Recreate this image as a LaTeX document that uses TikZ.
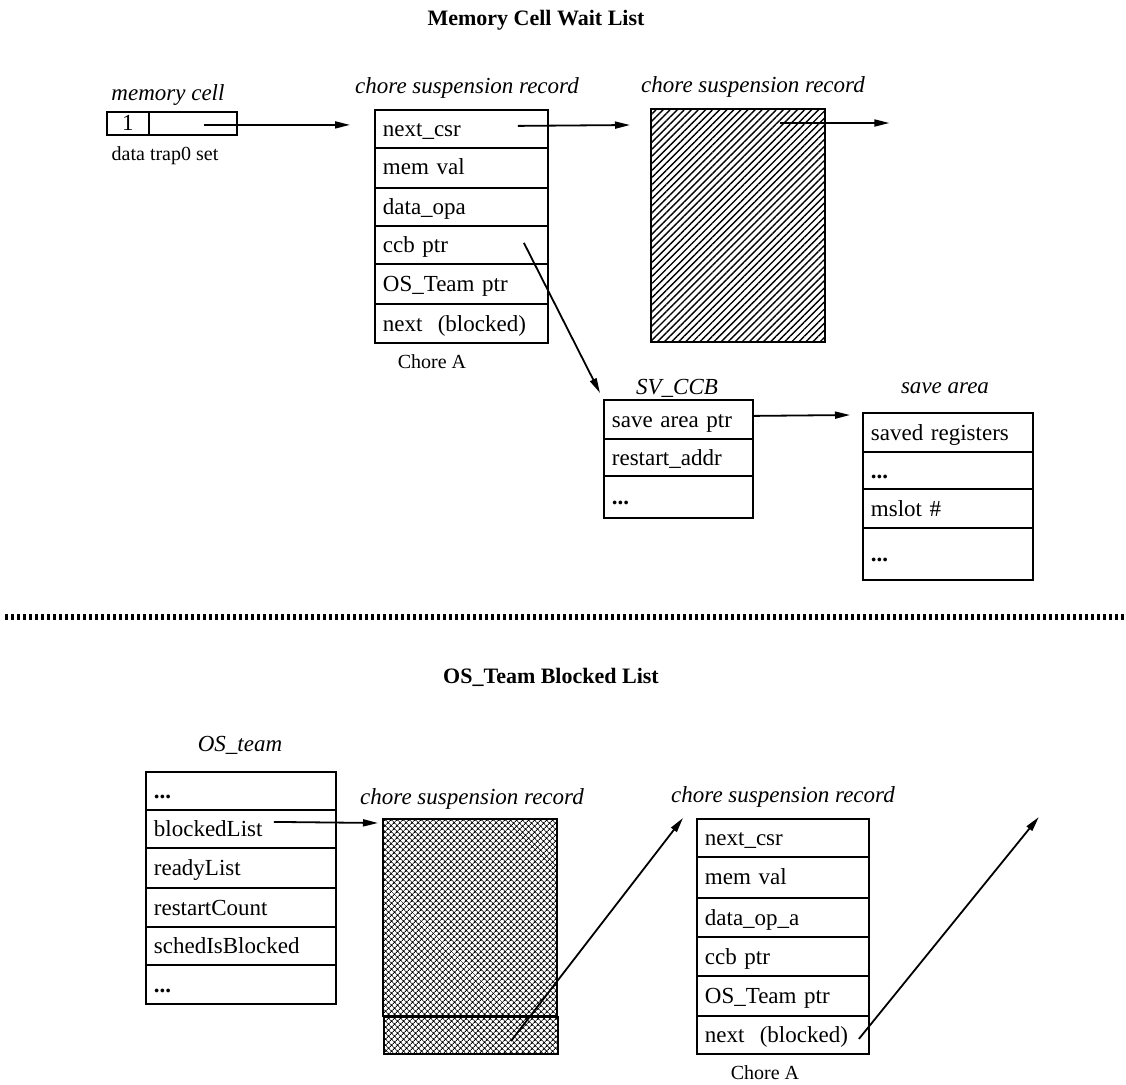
\documentclass[tikz,border=0pt]{standalone}
\usepackage{fontspec}
\setmainfont{Liberation Serif}
\usetikzlibrary{arrows.meta,patterns.meta}
\newcommand\myfs{\fontsize{23}{26}\selectfont}
\newcommand\smfs{\fontsize{20}{23}\selectfont}
\newcommand\ttfs{\fontsize{22}{25}\selectfont}
\begin{document}
\begin{tikzpicture}[x=1pt,y=-1pt,
 fld/.style={draw, line width=1.8pt, anchor=north west, inner xsep=8pt, inner ysep=0pt, align=left, font=\myfs, text height=20pt, text depth=4pt},
 lbl/.style={font=\myfs\itshape, inner sep=0pt},
 ttl/.style={font=\ttfs\bfseries, inner sep=0pt},
 note/.style={font=\smfs, inner sep=0pt},
 arr/.style={line width=1.8pt, -{Triangle[length=15pt,width=7pt]}},
 blk/.style={draw, line width=2pt, anchor=north west, inner sep=0pt},
]
\useasboundingbox (0,0) rectangle (1126,1084);

% ---------- top part ----------
\node[ttl] (t1) at (536,20) {Memory Cell Wait List};

\node[lbl] (lmc) at (168,95) {memory cell};
\node[fld, minimum height=23, text width=26, align=center, font=\myfs, text height=15pt, text depth=0pt] (mc1) at (106,111) {1};
\node[fld, minimum height=23, text width=72, text height=0pt, text depth=0pt] (mc2) at (148,111) {};
\node[note] (n1) at (165,156) {data trap0 set};

\node[lbl] (lcsr1) at (467,88) {chore suspension record};
\node[fld, minimum height=38, text width=157] (c1) at (374,109) {next\_csr};
\node[fld, minimum height=40, text width=157, text height=22pt, text depth=8pt] (c2) at (374,147) {mem val};
\node[fld, minimum height=38, text width=157] (c3) at (374,187) {data\_opa};
\node[fld, minimum height=38, text width=157] (c4) at (374,225) {ccb ptr};
\node[fld, minimum height=40, text width=157] (c5) at (374,263) {OS\_Team ptr};
\node[fld, minimum height=39, text width=157] (c6) at (374,303) {next\ \ (blocked)};
\node[note] (chA1) at (432,362) {Chore A};

\node[lbl] (lcsr2) at (753,87) {chore suspension record};
\node[blk, minimum width=174, minimum height=233,
      pattern={Lines[angle=45,distance=5pt,line width=1.4pt]}] (hatch) at (650,108) {};

\node[lbl] (lsv) at (677,388) {SV\_CCB};
\node[fld, minimum height=39, text width=133] (s1) at (603,399) {save area ptr};
\node[fld, minimum height=37, text width=133] (s2) at (603,438) {restart\_addr};
\node[fld, minimum height=42, text width=133] (s3) at (603,475) {\textbf{...}};

\node[lbl] (lsa) at (945,388) {save area};
\node[fld, minimum height=39, text width=154] (a1) at (862,412) {saved registers};
\node[fld, minimum height=37, text width=154] (a2) at (862,451) {\textbf{...}};
\node[fld, minimum height=39, text width=154] (a3) at (862,488) {mslot \#};
\node[fld, minimum height=52, text width=154] (a4) at (862,527) {\textbf{...}};

% arrows top
\draw[arr] ([xshift=11pt,yshift=-1.5pt]mc2.center) -- ([xshift=-24pt,yshift=4pt]c1.west);
\draw[arr] ([xshift=56.5pt,yshift=3pt]c1.center) -- ([xshift=-20pt,yshift=-17pt]hatch.north west);
\draw[arr] ([xshift=-45pt,yshift=-15pt]hatch.north east) -- ([xshift=64pt,yshift=-15pt]hatch.north east);
\draw[arr] ([xshift=62.5pt,yshift=2pt]c4.center) -- ([xshift=-3pt,yshift=6pt]s1.north west);
\draw[arr] ([yshift=3.5pt]s1.east) -- ([xshift=-12pt,yshift=-3pt]a1.north west);

% ---------- separator ----------
\coordinate (sepL) at (5,617);
\coordinate (sepR) at (1126,617);
\draw[line width=6pt, dash pattern=on 2.5pt off 3.5pt] (sepL) -- (sepR);

% ---------- bottom part ----------
\node[ttl] (t2) at (551,677) {OS\_Team Blocked List};

\node[lbl] (los) at (240,745) {OS\_team};
\node[fld, minimum height=38, text width=174] (o1) at (145,771) {\textbf{...}};
\node[fld, minimum height=38, text width=174] (o2) at (145,809) {blockedList};
\node[fld, minimum height=40, text width=174] (o3) at (145,847) {readyList};
\node[fld, minimum height=39, text width=174] (o4) at (145,887) {restartCount};
\node[fld, minimum height=38, text width=174] (o5) at (145,926) {schedIsBlocked};
\node[fld, minimum height=39, text width=174] (o6) at (145,964) {\textbf{...}};

\node[lbl] (lcsr3) at (472,799) {chore suspension record};
\node[blk, minimum width=174, minimum height=197,
      pattern={Hatch[angle=45,distance=4pt,line width=0.9pt]}] (xh) at (383,819) {};
\node[blk, minimum width=174, minimum height=37,
      pattern={Hatch[angle=45,distance=4pt,line width=0.9pt]}] (xh2) at (383,1016) {};

\node[lbl] (lcsr4) at (783,797) {chore suspension record};
\node[fld, minimum height=38, text width=156] (b1) at (696,818) {next\_csr};
\node[fld, minimum height=41, text width=156, text height=22pt, text depth=8pt] (b2) at (696,856) {mem val};
\node[fld, minimum height=39, text width=156] (b3) at (696,897) {data\_op\_a};
\node[fld, minimum height=39, text width=156] (b4) at (696,936) {ccb ptr};
\node[fld, minimum height=40, text width=156] (b5) at (696,975) {OS\_Team ptr};
\node[fld, minimum height=38, text width=156] (b6) at (696,1015) {next\ \ (blocked)};
\node[note] (chA2) at (765,1073) {Chore A};

% arrows bottom
\draw[arr] ([xshift=33pt,yshift=7pt]o2.center) -- ([xshift=-5pt,yshift=-4pt]xh.north west);
\draw[arr] ([xshift=40pt,yshift=-5.5pt]xh2.center) -- ([xshift=-13pt]b1.north west);
\draw[arr] ([xshift=76pt,yshift=-4pt]b6.center) -- ([xshift=169pt,yshift=1pt]b1.north east);
\end{tikzpicture}
\end{document}
